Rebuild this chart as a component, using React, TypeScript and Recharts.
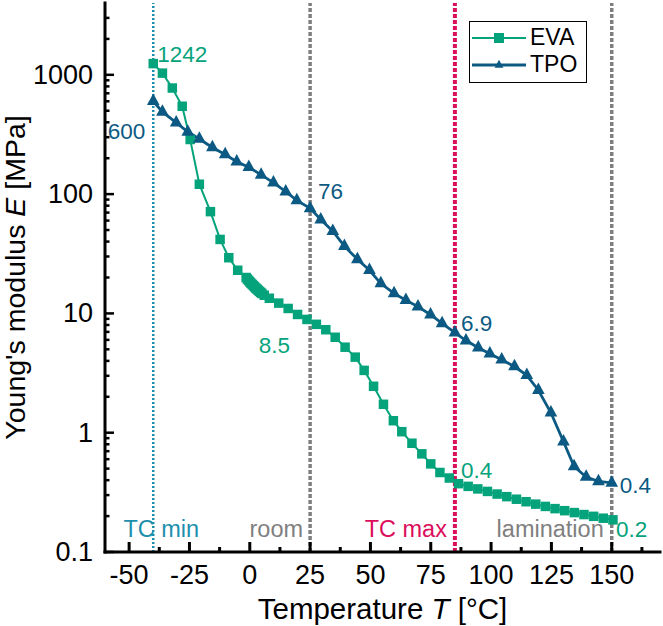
import { LineChart, Line, XAxis, YAxis, ReferenceLine, ReferenceDot, Legend } from "recharts";

const FONT = '"Liberation Sans", Arial, sans-serif';

const colors = {
  eva: "#05A37B",
  tpo: "#0C5A83",
  tcMin: "#1C8FAD",
  gray: "#7F7F7F",
  tcMax: "#DC0E5C",
  axis: "#000000",
};

// EVA: temperature [°C] and Young's modulus [MPa]
const evaT = [
  -40, -36.2, -32.1, -28, -24.7, -20.9, -16.3, -12.3, -8.7, -5, -1.5, -1, -0.5, 0, 0.5, 1, 1.5, 2,
  2.5, 3, 3.5, 4, 4.5, 5, 6, 8.1, 12, 15.9, 19.8, 23.7, 27.6, 31.5, 35.4, 39.5, 43.7, 47.4, 51.3,
  55.4, 59.5, 63, 67.2, 71.3, 75, 78.8, 82.7, 86.5, 90.5, 94.5, 98.5, 102.5, 106.5, 110.5, 114.5,
  118.5, 122.5, 126.5, 130.5, 134.5, 138.5, 142.5, 146.5, 150.5,
];
const evaE = [
  1242, 1033, 775, 545, 287, 121, 71.3, 41.7, 29.3, 23, 20, 19.4, 18.9, 18.4, 17.9, 17.5, 17.1, 16.7,
  16.3, 16, 15.6, 15.3, 15, 14.7, 14.2, 13.4, 12.2, 11, 9.8, 8.9, 8.1, 7.3, 6.31, 5.21, 4.3, 3.33,
  2.45, 1.73, 1.26, 1.02, 0.816, 0.665, 0.548, 0.464, 0.417, 0.374, 0.355, 0.338, 0.322, 0.306,
  0.291, 0.277, 0.264, 0.252, 0.241, 0.231, 0.222, 0.214, 0.206, 0.199, 0.192, 0.186,
];

// TPO
const tpoT = [
  -40, -36.2, -30.5, -25.7, -20.9, -15.5, -10.2, -5.4, -0.4, 4.7, 9.8, 14.9, 19.5, 25, 29.4, 34.4,
  39.2, 44.6, 49.6, 54.3, 59.8, 64.7, 69.7, 74.9, 79.7, 85, 89.6, 94.7, 99.5, 104.4, 109.7, 114.8,
  119.6, 124.8, 130, 134.4, 139.4, 144.5, 150,
];
const tpoE = [
  600, 489, 398, 333, 290, 246, 215, 187, 168, 145, 125, 105, 88.6, 76, 61.2, 48.9, 36.6, 28.4, 23,
  17.8, 14.7, 12.9, 11.4, 9.75, 8.26, 6.9, 5.92, 5.15, 4.59, 4.09, 3.59, 3.03, 2.27, 1.47, 0.841,
  0.521, 0.425, 0.391, 0.38,
];

// vertical markers
const refT = [-40, 25, 85, 150];
const refText = ["TC min", "room", "TC max", "lamination"];
const refColor = [colors.tcMin, colors.gray, colors.tcMax, colors.gray];

// value annotations
const noteT = [-40, -40, 25, 25, 85, 85, 150, 150.5];
const noteE = [1242, 600, 76, 8.5, 6.9, 0.4, 0.38, 0.186];
const noteText = ["1242", "600", "76", "8.5", "6.9", "0.4", "0.4", "0.2"];
const noteSeries = ["eva", "tpo", "tpo", "eva", "tpo", "eva", "tpo", "eva"];

const xMajor = [-50, -25, 0, 25, 50, 75, 100, 125, 150];
const xMinor = [-37.5, -12.5, 12.5, 37.5, 62.5, 87.5, 112.5, 137.5, 162.5];
const yMajor = [0.1, 1, 10, 100, 1000];
const yMinorSteps = [2, 3, 4, 5, 6, 7, 8, 9];

const xTicks = [...xMajor, ...xMinor].sort((a, b) => a - b);
const yTicks = [
  ...yMajor,
  ...yMajor.flatMap((d) => yMinorSteps.map((m) => m * d)).filter((v) => v < 4000),
].sort((a, b) => a - b);

const evaData = evaT.map((t, i) => ({ t, e: evaE[i] }));
const tpoData = tpoT.map((t, i) => ({ t, e: tpoE[i] }));

// label placement per annotation (dx, dy, anchor)
const notePlace: [number, number, string][] = [
  [4, -9, "start"],
  [-8, 30, "end"],
  [8, -17, "start"],
  [-20, 24, "end"],
  [6, -9, "start"],
  [6, -10, "start"],
  [8, 3, "start"],
  [3, 10, "start"],
];
const refPlace: [number, string][] = [
  [8, "middle"],
  [-7, "end"],
  [-8, "end"],
  [-8, "end"],
];
const refStyle: [number, string][] = [
  [2.5, "2 2"],
  [3.5, "4 2"],
  [4, "4 2"],
  [3.5, "4 2"],
];

function XTick(props: any) {
  const { x, y, payload, side } = props;
  const major = xMajor.includes(payload.value);
  const len = major ? 10 : 5;
  const dir = side === "bottom" ? -1 : 1;
  return (
    <g>
      <line x1={x} x2={x} y1={y} y2={y + dir * len} stroke={colors.axis} strokeWidth={3} />
      {side === "bottom" && major && (
        <text x={x} y={y + 23} textAnchor="middle" dominantBaseline="central" fontSize={27} fontFamily={FONT} fill="#000">
          {payload.value}
        </text>
      )}
    </g>
  );
}

function YTick(props: any) {
  const { x, y, payload, side } = props;
  const major = yMajor.includes(payload.value);
  const len = major ? 9 : 4.5;
  const dir = side === "left" ? 1 : -1;
  return (
    <g>
      <line x1={x} x2={x + dir * len} y1={y} y2={y} stroke={colors.axis} strokeWidth={2.5} />
      {side === "left" && major && (
        <text x={x - 12} y={y} textAnchor="end" dominantBaseline="central" fontSize={27} fontFamily={FONT} fill="#000">
          {String(payload.value)}
        </text>
      )}
    </g>
  );
}

function Square(props: any) {
  const { cx, cy, size, fill } = props;
  if (cx == null || cy == null) return null;
  return <rect x={cx - size / 2} y={cy - size / 2} width={size} height={size} fill={fill} />;
}

function Triangle(props: any) {
  const { cx, cy, size, fill } = props;
  if (cx == null || cy == null) return null;
  const w = size * 1.1;
  const h = size;
  return (
    <polygon
      points={`${cx},${cy - (h * 2) / 3} ${cx - w / 2},${cy + h / 3} ${cx + w / 2},${cy + h / 3}`}
      fill={fill}
    />
  );
}

function XTitle(props: any) {
  const { viewBox } = props;
  return (
    <text x={viewBox.x + viewBox.width / 2} y={viewBox.y + 67} textAnchor="middle" fontSize={29.5} fontFamily={FONT} fill="#000">
      Temperature <tspan fontStyle="italic">T</tspan> [°C]
    </text>
  );
}

function YTitle(props: any) {
  const { viewBox } = props;
  const x = viewBox.x - 20;
  const y = viewBox.y + viewBox.height / 2;
  return (
    <text x={x} y={y} transform={`rotate(-90 ${x} ${y})`} textAnchor="middle" fontSize={28.5} fontFamily={FONT} fill="#000">
      Young's modulus <tspan fontStyle="italic">E</tspan> [MPa]
    </text>
  );
}

function RefLabel(props: any) {
  const { viewBox, text, color, dx, anchor } = props;
  return (
    <text
      x={viewBox.x + dx}
      y={viewBox.y + viewBox.height - 23}
      textAnchor={anchor}
      dominantBaseline="central"
      fontSize={23.5}
      fontFamily={FONT}
      fill={color}
    >
      {text}
    </text>
  );
}

function NoteLabel(props: any) {
  const { viewBox, text, color, dx, dy, anchor } = props;
  return (
    <text x={viewBox.x + dx} y={viewBox.y + dy} textAnchor={anchor} dominantBaseline="central" fontSize={22.5} fontFamily={FONT} fill={color}>
      {text}
    </text>
  );
}

function LegendBox(props: any) {
  const { payload = [] } = props;
  return (
    <div
      style={{
        position: "absolute",
        left: 469,
        top: 21,
        width: 116,
        height: 56,
        padding: "2px 0",
        border: "1.5px solid #000",
        background: "#fff",
        fontFamily: FONT,
        fontSize: 23,
      }}
    >
      {payload.map((entry: any) => (
        <div key={entry.value} style={{ display: "flex", alignItems: "center", height: 27 }}>
          <svg width={59} height={20} style={{ display: "block", flex: "none" }}>
            <line x1={2} x2={56} y1={10} y2={10} stroke={entry.color} strokeWidth={entry.value === "TPO" ? 3 : 2} />
            {entry.value === "TPO" ? (
              <Triangle cx={29} cy={10} size={8} fill={entry.color} />
            ) : (
              <Square cx={29} cy={10} size={10} fill={entry.color} />
            )}
          </svg>
          <span style={{ marginLeft: 1, lineHeight: "27px" }}>{entry.value}</span>
        </div>
      ))}
    </div>
  );
}

export default function App() {
  return (
    <div style={{ position: "absolute", left: 0, top: 0 }}>
      <LineChart width={663} height={626} margin={{ top: 3, right: 3, bottom: 34, left: 45 }}>
        <XAxis
          dataKey="t"
          type="number"
          domain={[-60, 170]}
          allowDataOverflow
          ticks={xTicks}
          interval={0}
          tickSize={0}
          tickMargin={0}
          height={40}
          tick={<XTick side="bottom" />}
          axisLine={{ stroke: colors.axis, strokeWidth: 3, strokeLinecap: "square" }}
          label={<XTitle />}
        />
        <XAxis
          xAxisId="top"
          orientation="top"
          dataKey="t"
          type="number"
          domain={[-60, 170]}
          allowDataOverflow
          ticks={xTicks}
          interval={0}
          tickSize={0}
          tickMargin={0}
          height={0}
          tick={<XTick side="top" />}
          axisLine={{ stroke: colors.axis, strokeWidth: 3, strokeLinecap: "square" }}
        />
        <YAxis
          type="number"
          scale="log"
          domain={[0.1, 4000]}
          allowDataOverflow
          ticks={yTicks}
          interval={0}
          tickSize={0}
          tickMargin={0}
          width={60}
          tick={<YTick side="left" />}
          axisLine={{ stroke: colors.axis, strokeWidth: 3, strokeLinecap: "square" }}
          label={<YTitle />}
        />
        <YAxis
          yAxisId="right"
          orientation="right"
          type="number"
          scale="log"
          domain={[0.1, 4000]}
          allowDataOverflow
          ticks={yTicks}
          interval={0}
          tickSize={0}
          tickMargin={0}
          width={0}
          tick={<YTick side="right" />}
          axisLine={{ stroke: colors.axis, strokeWidth: 3, strokeLinecap: "square" }}
        />
        <Line
          data={evaData}
          dataKey="e"
          name="EVA"
          type="linear"
          stroke={colors.eva}
          strokeWidth={2}
          dot={(p: any) => <Square key={`eva-${p.index}`} cx={p.cx} cy={p.cy} size={9.5} fill={colors.eva} />}
          activeDot={false}
          isAnimationActive={false}
        />
        <Line
          data={tpoData}
          dataKey="e"
          name="TPO"
          type="linear"
          stroke={colors.tpo}
          strokeWidth={2.8}
          dot={(p: any) => <Triangle key={`tpo-${p.index}`} cx={p.cx} cy={p.cy} size={11.5} fill={colors.tpo} />}
          activeDot={false}
          isAnimationActive={false}
        />
        {refT.map((t, i) => (
          <ReferenceLine
            key={`ref-${i}`}
            x={t}
            stroke={refColor[i]}
            strokeWidth={refStyle[i][0]}
            strokeDasharray={refStyle[i][1]}
            label={<RefLabel text={refText[i]} color={refColor[i]} dx={refPlace[i][0]} anchor={refPlace[i][1]} />}
          />
        ))}
        {noteT.map((t, i) => (
          <ReferenceDot
            key={`note-${i}`}
            x={t}
            y={noteE[i]}
            r={0}
            fill="none"
            stroke="none"
            ifOverflow="visible"
            label={
              <NoteLabel
                text={noteText[i]}
                color={noteSeries[i] === "eva" ? colors.eva : colors.tpo}
                dx={notePlace[i][0]}
                dy={notePlace[i][1]}
                anchor={notePlace[i][2]}
              />
            }
          />
        ))}
        <Legend
          layout="vertical"
          verticalAlign="middle"
          align="center"
          wrapperStyle={{ left: 0, top: 0, width: 0, height: 0 }}
          content={<LegendBox />}
        />
      </LineChart>
    </div>
  );
}
